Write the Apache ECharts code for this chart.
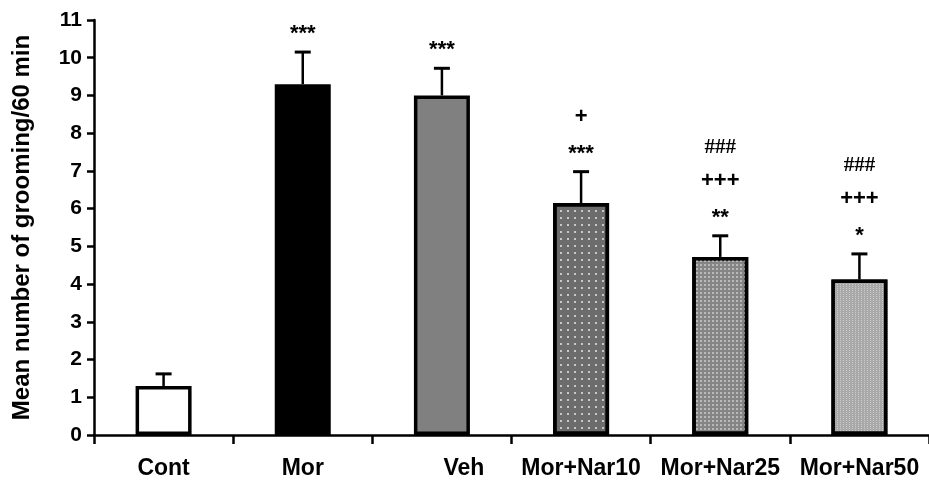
<!DOCTYPE html>
<html>
<head>
<meta charset="utf-8">
<script src="https://cdn.jsdelivr.net/npm/echarts@6/dist/echarts.min.js"></script>
<style>
html,body{margin:0;padding:0;background:#fff;}
#chart{width:929px;height:481px;}
</style>
</head>
<body>
<div id="chart"></div>
<script>
// ---- data ----
const categories = ['Cont', 'Mor', 'Veh', 'Mor+Nar10', 'Mor+Nar25', 'Mor+Nar50'];
const means = [1.3, 9.3, 9.0, 6.15, 4.72, 4.12];
const sems = [0.32, 0.85, 0.72, 0.83, 0.56, 0.68];
const annotations = [[], ['***'], ['***'], ['***', '+'], ['**', '+++', '###'], ['*', '+++', '###']];
const yTicks = [0, 1, 2, 3, 4, 5, 6, 7, 8, 9, 10, 11];
const yTitle = 'Mean number of grooming/60 min';

// ---- styles ----
const fills = [
  { color: '#ffffff' },
  { color: '#000000' },
  { color: '#808080' },
  { color: '#6c6c6c', decal: { symbol: 'rect', symbolSize: 1, dashArrayX: [[2, 5]], dashArrayY: [2, 5], color: '#c8c8c8' } },
  { color: '#858585', decal: { symbol: 'rect', symbolSize: 1, dashArrayX: [[2, 2]], dashArrayY: [2, 2], color: '#b8b8b8' } },
  { color: '#a8a8a8', decal: { symbol: 'rect', symbolSize: 1, dashArrayX: [[1, 2]], dashArrayY: [1, 1], color: '#cdcdcd' } }
];

const chart = echarts.init(document.getElementById('chart'), null, { renderer: 'canvas' });

const barData = means.map((v, i) => ({
  value: v,
  itemStyle: Object.assign({ borderColor: '#000', borderWidth: 3.5 }, fills[i])
}));

const errData = means.map((v, i) => [i, v, sems[i]]);

const option = {
  animation: false,
  backgroundColor: '#fff',
  grid: { left: 94, right: -9, top: 20, bottom: 46, containLabel: false },
  xAxis: {
    type: 'category',
    data: categories,
    axisLine: { lineStyle: { color: '#000', width: 2.5 } },
    axisTick: { show: true, length: 9, lineStyle: { color: '#000', width: 2.5 } },
    axisLabel: {
      margin: 22,
      color: '#000',
      fontFamily: 'Arial, Liberation Sans, sans-serif',
      fontWeight: 'bold',
      fontSize: 23,
      interval: 0,
      formatter: function (v) { return v === 'Veh' ? '{veh|' + v + '}' : v; },
      rich: { veh: { padding: [0, 0, 0, 44], fontFamily: 'Arial, Liberation Sans, sans-serif', fontWeight: 'bold', fontSize: 23, color: '#000' } }
    }
  },
  yAxis: {
    type: 'value',
    min: yTicks[0],
    max: yTicks[yTicks.length - 1],
    interval: 1,
    name: yTitle,
    nameLocation: 'middle',
    nameRotate: 90,
    nameGap: 60,
    nameTextStyle: { color: '#000', fontFamily: 'Arial, Liberation Sans, sans-serif', fontWeight: 'bold', fontSize: 24 },
    axisLine: { show: true, lineStyle: { color: '#000', width: 2.5 } },
    axisTick: { show: true, length: 7, lineStyle: { color: '#000', width: 2.5 } },
    splitLine: { show: false },
    axisLabel: { margin: 12, color: '#000', fontFamily: 'Arial, Liberation Sans, sans-serif', fontWeight: 'bold', fontSize: 21 }
  },
  series: [
    {
      type: 'bar',
      data: barData,
      barWidth: 56,
      z: 2
    },
    {
      type: 'custom',
      data: errData,
      z: 3,
      renderItem: function (params, api) {
        const i = api.value(0);
        const top = api.coord([i, api.value(1) + api.value(2)]);
        const base = api.coord([i, api.value(1)]);
        const capHalf = 8;
        const children = [
          { type: 'line', shape: { x1: base[0], y1: base[1], x2: top[0], y2: top[1] }, style: { stroke: '#000', lineWidth: 2.5 } },
          { type: 'line', shape: { x1: top[0] - capHalf, y1: top[1], x2: top[0] + capHalf, y2: top[1] }, style: { stroke: '#000', lineWidth: 3 } }
        ];
        const lines = annotations[params.dataIndex];
        lines.forEach(function (t, k) {
          const isStar = t.indexOf('*') >= 0;
          const isHash = t.indexOf('#') >= 0;
          const y = top[1] - 24 - k * 31 + (isStar ? 6 : 0) + (isHash ? -2 : 0);
          children.push({
            type: 'text',
            style: {
              text: t,
              x: top[0],
              y: y,
              align: 'center',
              verticalAlign: 'middle',
              fill: '#000',
              font: (isHash ? 'bold 21px "Liberation Serif", serif' : 'bold 22px Arial, "Liberation Sans", sans-serif')
            }
          });
        });
        return { type: 'group', children: children };
      }
    }
  ]
};

chart.setOption(option);
</script>
</body>
</html>
